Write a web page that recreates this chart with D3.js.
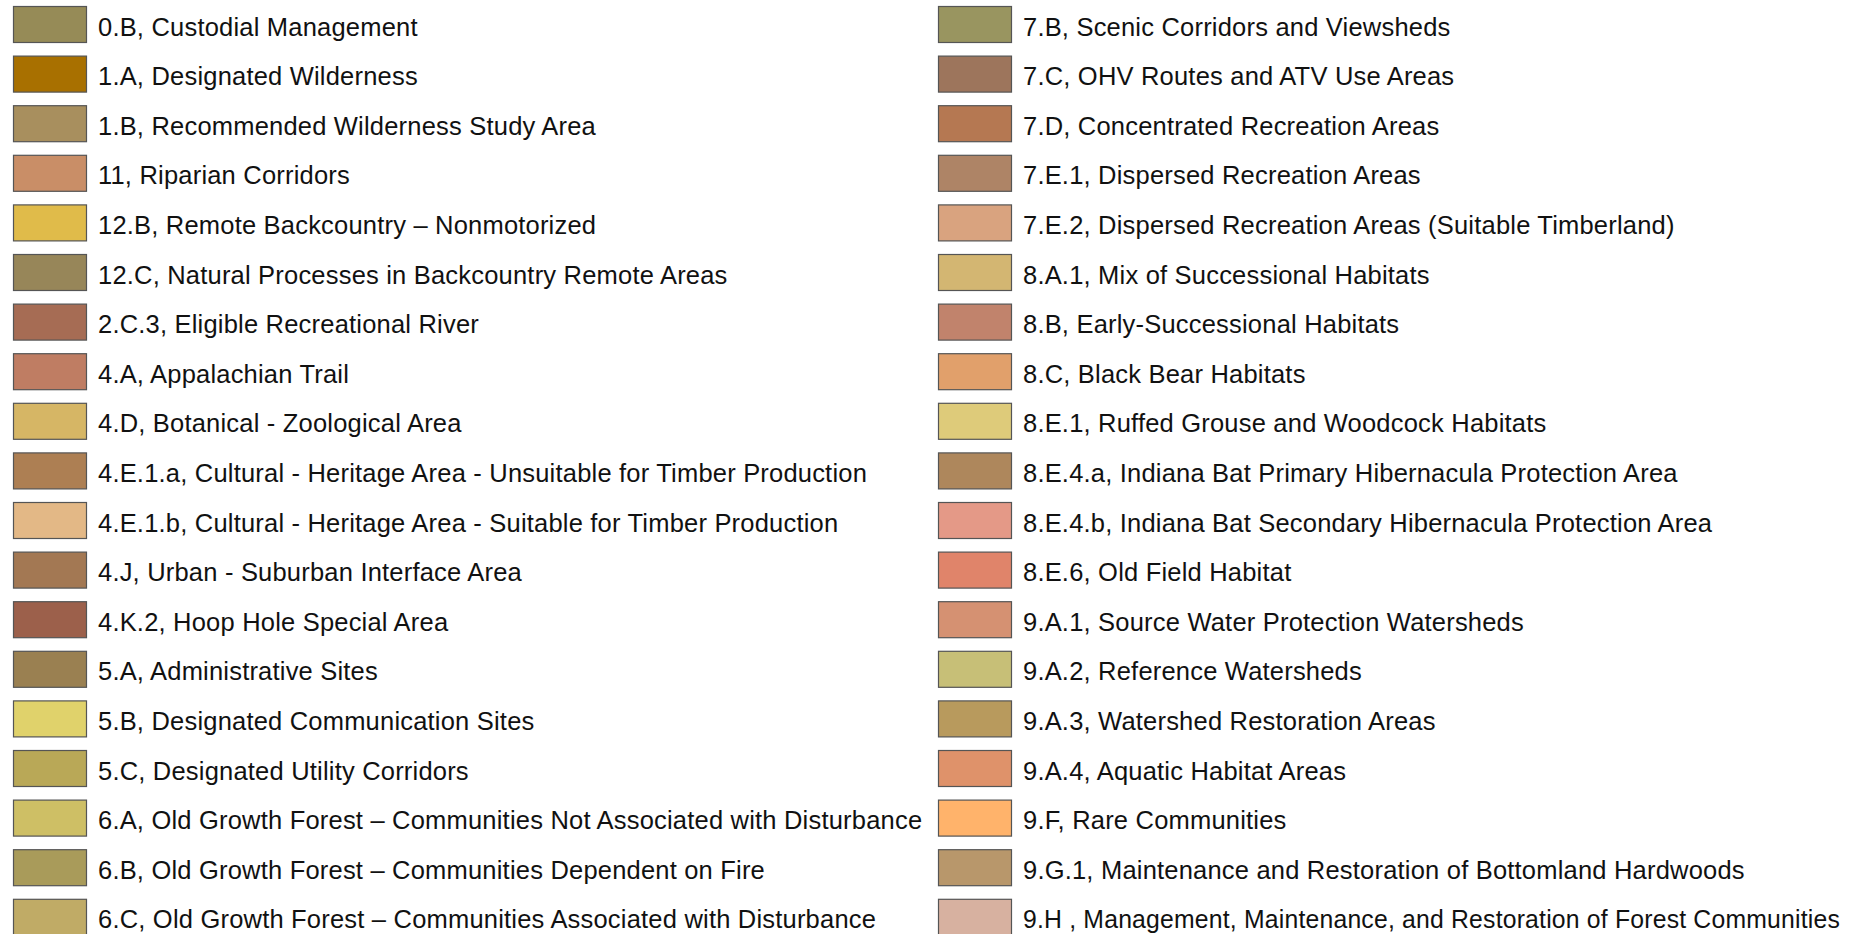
<!DOCTYPE html>
<html>
<head>
<meta charset="utf-8">
<script src="https://cdn.jsdelivr.net/npm/d3@7"></script>
<style>
  body { margin: 0; background: #fff; }
  svg { display: block; }
</style>
</head>
<body>
<div id="container"></div>
<script>
var leftLabels = [
	"0.B, Custodial Management",
	"1.A, Designated Wilderness",
	"1.B, Recommended Wilderness Study Area",
	"11, Riparian Corridors",
	"12.B, Remote Backcountry \u2013 Nonmotorized",
	"12.C, Natural Processes in Backcountry Remote Areas",
	"2.C.3, Eligible Recreational River",
	"4.A, Appalachian Trail",
	"4.D, Botanical - Zoological Area",
	"4.E.1.a, Cultural - Heritage Area - Unsuitable for Timber Production",
	"4.E.1.b, Cultural - Heritage Area - Suitable for Timber Production",
	"4.J, Urban - Suburban Interface Area",
	"4.K.2, Hoop Hole Special Area",
	"5.A, Administrative Sites",
	"5.B, Designated Communication Sites",
	"5.C, Designated Utility Corridors",
	"6.A, Old Growth Forest \u2013 Communities Not Associated with Disturbance",
	"6.B, Old Growth Forest \u2013 Communities Dependent on Fire",
	"6.C, Old Growth Forest \u2013 Communities Associated with Disturbance"
];
var leftColours = [
	"#968b57", "#a87000", "#a88f5e", "#c98e67", "#e0bb4a", "#978659",
	"#a66c54", "#bf7d63", "#d6b665", "#ad7f53", "#e3b886", "#a37853",
	"#9c604b", "#9a8051", "#e0d26b", "#b9a857", "#cebf65", "#a99b5a",
	"#c0ab66"
];

var rightLabels = [
	"7.B, Scenic Corridors and Viewsheds",
	"7.C, OHV Routes and ATV Use Areas",
	"7.D, Concentrated Recreation Areas",
	"7.E.1, Dispersed Recreation Areas",
	"7.E.2, Dispersed Recreation Areas (Suitable Timberland)",
	"8.A.1, Mix of Successional Habitats",
	"8.B, Early-Successional Habitats",
	"8.C, Black Bear Habitats",
	"8.E.1, Ruffed Grouse and Woodcock Habitats",
	"8.E.4.a, Indiana Bat Primary Hibernacula Protection Area",
	"8.E.4.b, Indiana Bat Secondary Hibernacula Protection Area",
	"8.E.6, Old Field Habitat",
	"9.A.1, Source Water Protection Watersheds",
	"9.A.2, Reference Watersheds",
	"9.A.3, Watershed Restoration Areas",
	"9.A.4, Aquatic Habitat Areas",
	"9.F, Rare Communities",
	"9.G.1, Maintenance and Restoration of Bottomland Hardwoods",
	"9.H , Management, Maintenance, and Restoration of Forest Communities"
];
var rightColours = [
	"#999560", "#9d755c", "#b57852", "#ae8466", "#d9a37f", "#d3b672",
	"#c1836c", "#e1a06b", "#decb7a", "#ae875c", "#e49987", "#e0846a",
	"#d59172", "#c7bf77", "#b89a5d", "#df926a", "#ffb36b", "#b8976b",
	"#d7b1a0"
];

var width = 1864,
	height = 934,
	swatchW = 73,
	swatchH = 36,
	textOffset = 85,
	rightMargin = 24;

var items = [];
leftLabels.forEach(function(d, i){
	items.push({ col: 0, row: i, label: d, colour: leftColours[i] });
});
rightLabels.forEach(function(d, i){
	items.push({ col: 1, row: i, label: d, colour: rightColours[i] });
});

var yScale = d3.scaleLinear()
	.domain([0, 18])
	.range([6, 6 + 18 * 49.6]);

var xScale = d3.scaleOrdinal()
	.domain([0, 1])
	.range([13, 938]);

var svg = d3.select("#container")
	.append("svg")
		.attr("width", width)
		.attr("height", height);

var g = svg.selectAll("g.item")
	.data(items)
	.enter().append("g")
		.attr("class", "item")
		.attr("transform", function(d){
			return "translate(" + xScale(d.col) + "," + yScale(d.row) + ")";
		});

g.append("rect")
	.attr("x", 0.5)
	.attr("y", 0.5)
	.attr("width", swatchW)
	.attr("height", swatchH)
	.style("fill", function(d){ return d.colour; })
	.style("stroke", "#555")
	.style("stroke-width", 1.2);

g.append("text")
	.attr("x", textOffset)
	.attr("y", 29.5)
	.style("font-family", "'Liberation Sans', Arial, sans-serif")
	.style("font-size", "25.5px")
	.style("letter-spacing", "0.2px")
	.style("fill", "#111")
	.text(function(d){ return d.label; })
	.each(function(d){
		// squeeze labels that would run off the right edge
		var maxW = width - rightMargin - xScale(d.col) - textOffset;
		if (this.getComputedTextLength() > maxW) {
			d3.select(this)
				.attr("textLength", maxW)
				.attr("lengthAdjust", "spacingAndGlyphs");
		}
	});
</script>
</body>
</html>
